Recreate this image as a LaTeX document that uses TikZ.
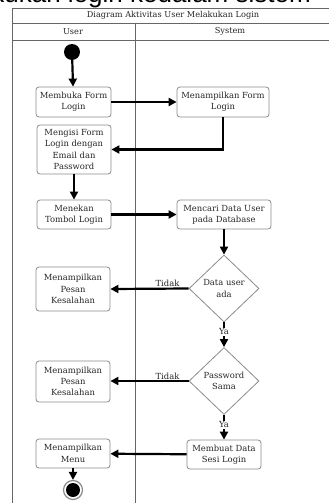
\documentclass[tikz,border=0pt]{standalone}
\usepackage{fontspec}
\setmainfont{DejaVu Serif}
\newfontfamily\topfont{Liberation Sans}
\usetikzlibrary{arrows.meta,shapes.geometric}
\tikzset{
  box/.style={draw=black!45, line width=0.8pt, rounded corners=3pt, align=center,
    font=\fontsize{8.4}{11.3}\selectfont, inner sep=0.5pt, text=black!85},
  dec/.style={draw=black!45, line width=0.8pt, diamond, align=center, inner sep=0pt,
    minimum width=70pt, minimum height=67pt, font=\fontsize{8.4}{11.3}\selectfont, text=black!85},
  flow/.style={line width=2.2pt, -{Triangle[length=8pt,width=8pt]}},
  lane/.style={draw=black!60, line width=0.8pt},
  lbl/.style={font=\fontsize{8.4}{9}\selectfont, inner sep=0.6pt, text=black!85},
  hdr/.style={font=\fontsize{8.2}{9}\selectfont, inner sep=0pt, text=black!85}
}
\begin{document}
\begin{tikzpicture}[x=1pt,y=-1pt]
\useasboundingbox (0,0) rectangle (329,503);
\fill[white] (0,0) rectangle (329,503);
\clip (0,0) rectangle (329,503);
% clipped caption above
\node[anchor=base east, inner sep=0pt, font=\topfont\fontsize{26}{28}\selectfont] (cap) at (311,3) {melakukan login kedalam sistem};
% frame
\draw[lane] (12,503) -- (12,8) -- (340,8);
\draw[lane] (12,23) -- (340,23);
\draw[lane] (12,40) -- (340,40);
\draw[lane] (135,23) -- (135,503);
\node[hdr] (title) at (173,15.5) {Diagram Aktivitas User Melakukan Login};
\node[hdr] (user) at (73,31.5) {User};
\node[hdr] (sys) at (230,31.5) {System};
% nodes
\node[circle, fill=black, minimum size=16pt, inner sep=0pt] (start) at (72,52) {};
\node[box, minimum width=75pt, minimum height=30pt] (a1) at (73.5,102) {Membuka Form\\Login};
\node[box, minimum width=92pt, minimum height=30pt] (s1) at (223,102) {Menampilkan Form\\Login};
\node[box, minimum width=74pt, minimum height=49pt] (a2) at (74,149.5) {Mengisi Form\\Login dengan\\Email dan\\Password};
\node[box, minimum width=74pt, minimum height=29pt] (a3) at (74,214.5) {Menekan\\Tombol Login};
\node[box, minimum width=94pt, minimum height=29pt] (s2) at (224,214.5) {Mencari Data User\\pada Database};
\node[dec] (d1) at (224,288.5) {Data user\\ada};
\node[box, minimum width=74pt, minimum height=44pt] (e1) at (73,289) {Menampilkan\\Pesan\\Kesalahan};
\node[dec] (d2) at (224,381) {Password\\Sama};
\node[box, minimum width=74pt, minimum height=41pt] (e2) at (73,381.5) {Menampilkan\\Pesan\\Kesalahan};
\node[box, minimum width=74pt, minimum height=29pt] (s3) at (224,454.5) {Membuat Data\\Sesi Login};
\node[box, minimum width=74pt, minimum height=29pt] (m) at (73,453.5) {Menampilkan\\Menu};
\node[circle, draw=black!45, line width=1.2pt, fill=white, minimum size=19pt, inner sep=0pt] (end) at (73,490) {};
\node[circle, fill=black, minimum size=14pt, inner sep=0pt] (endin) at (end.center) {};
% flows
\draw[flow] (start) -- (a1);
\draw[flow] (a1) -- (s1);
\draw[flow] (s1.south) |- (a2.east);
\draw[flow] (a2) -- (a3);
\draw[flow] (a3) -- (s2);
\draw[flow] (s2) -- (d1);
\draw[flow] (d1.west) -- node[lbl, above, pos=0.27] {Tidak} (e1.east);
\draw[flow] (d1.south) -- node[lbl, fill=white, pos=0.38] {Ya} (d2.north);
\draw[flow] (d2.west) -- node[lbl, above, pos=0.27] {Tidak} (e2.east |- d2.west);
\draw[flow] (d2.south) -- node[lbl, fill=white, pos=0.4] {Ya} (s3.north);
\draw[flow] (s3) -- (m);
\draw[flow] (m) -- (end);
\end{tikzpicture}
\end{document}
